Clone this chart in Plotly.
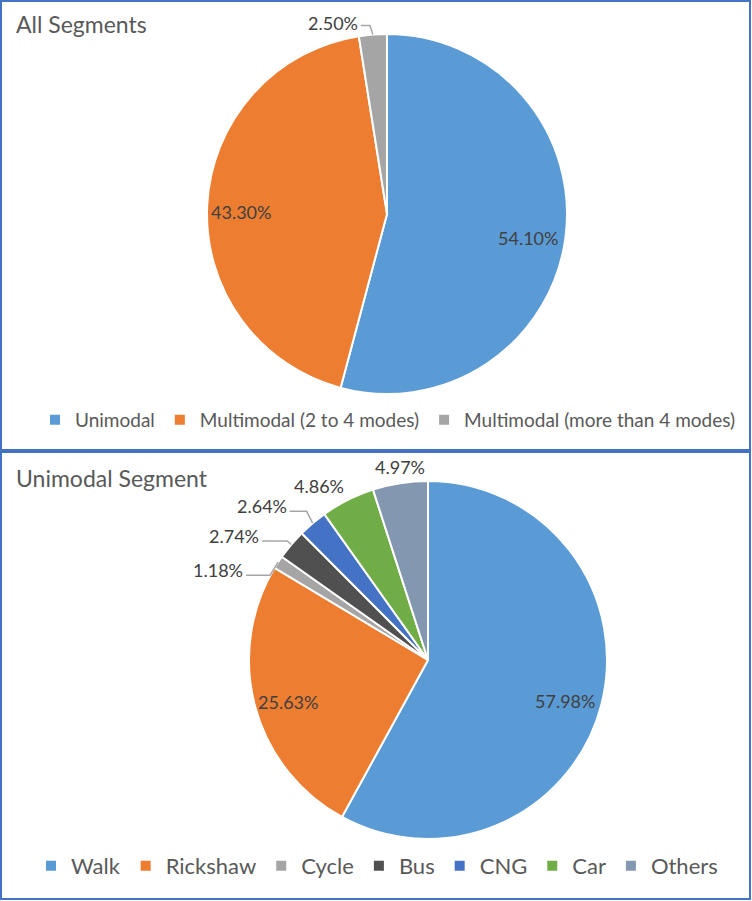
import math
import plotly.graph_objects as go

W, H = 752, 901

# ---------------- data ----------------
all_labels = ["Unimodal", "Multimodal (2 to 4 modes)", "Multimodal (more than 4 modes)"]
all_values = [54.10, 43.30, 2.50]

uni_labels = ["Walk", "Rickshaw", "Cycle", "Bus", "CNG", "Car", "Others"]
uni_values = [57.98, 25.63, 1.18, 2.74, 2.64, 4.86, 4.97]

# ---------------- styles ----------------
all_colors = ["#5B9BD5", "#ED7D31", "#A5A5A5"]
uni_colors = ["#5B9BD5", "#ED7D31", "#A5A5A5", "#505050", "#4472C4", "#70AD47", "#8497B0"]

FONT = "Lato"
TXT = "#404040"
TITLE_C = "#595959"
BORDER_C = "#4472C4"
LEADER_C = "#A6A6A6"

TOP = dict(cx=387, cy=214, r=180)
BOT = dict(cx=428, cy=660, r=179)

# label placement: "in" -> inside at radial factor; ("out", dx, dy, elbow) offsets in px from slice-edge midpoint
top_place = ["in", "in", ("out", -40, -12, (-3, -9))]
bot_place = ["in", "in",
             ("out", -60, 8, (-8, 13)),
             ("out", -57, -9, (-4, -3.5)),
             ("out", -51, -17, (-6, -12)),
             ("out", -29, -14, None),
             ("out", 0, -16, None)]


def px(x, y):
    return x / W, 1 - y / H


def domain(g):
    x0, y1 = px(g["cx"] - g["r"], g["cy"] - g["r"])
    x1, y0 = px(g["cx"] + g["r"], g["cy"] + g["r"])
    return dict(x=[x0, x1], y=[y0, y1])


def label_items(values, g, place, annotations, shapes):
    total = sum(values)
    cum = 0.0
    for v, p in zip(values, place):
        a0 = cum / total * 360
        cum += v
        a1 = cum / total * 360
        mid = math.radians((a0 + a1) / 2)
        s, c = math.sin(mid), math.cos(mid)
        text = f"{v:.2f}%"
        if p == "in":
            rr = 0.80 * g["r"]
            lx, ly = g["cx"] + rr * s - 2, g["cy"] - rr * c + 5
        else:
            ex, ey = g["cx"] + g["r"] * s, g["cy"] - g["r"] * c
            lx, ly = ex + p[1], ey + p[2]
            if p[3] is not None:
                bx, by = ex + p[3][0], ey + p[3][1]
                sx = lx + 28
                pts = [px(sx, by), px(bx, by), px(ex, ey)]
                path = "M {} {} L {} {} L {} {}".format(*[f"{u:.5f}" for pt in pts for u in pt])
                shapes.append(dict(type="path", xref="paper", yref="paper", path=path,
                                   line=dict(color=LEADER_C, width=1.5)))
        xx, yy = px(lx, ly)
        annotations.append(dict(x=xx, y=yy, xref="paper", yref="paper", text=text,
                                showarrow=False, xanchor="center", yanchor="middle",
                                font=dict(family=FONT, size=18, color=TXT)))


fig = go.Figure()
fig.add_trace(go.Pie(labels=all_labels, values=all_values, sort=False, direction="clockwise",
                     rotation=0, domain=domain(TOP), textinfo="none", hoverinfo="label+percent",
                     marker=dict(colors=all_colors, line=dict(color="white", width=2)),
                     legend="legend", showlegend=True))
fig.add_trace(go.Pie(labels=uni_labels, values=uni_values, sort=False, direction="clockwise",
                     rotation=0, domain=domain(BOT), textinfo="none", hoverinfo="label+percent",
                     marker=dict(colors=uni_colors, line=dict(color="white", width=2)),
                     legend="legend2", showlegend=True))

annotations, shapes = [], []
label_items(all_values, TOP, top_place, annotations, shapes)
label_items(uni_values, BOT, bot_place, annotations, shapes)

# titles
for t, yy in [("All Segments", 24), ("Unimodal Segment", 478)]:
    xx, yp = px(14, yy)
    annotations.append(dict(x=xx, y=yp, xref="paper", yref="paper", text=t, showarrow=False,
                            xanchor="left", yanchor="middle",
                            font=dict(family=FONT, size=23, color=TITLE_C)))

# panel borders
for (x0, y0, x1, y1) in [(1, 1, 750, 450), (1, 452, 750, 899)]:
    a0, b0 = px(x0, y0)
    a1, b1 = px(x1, y1)
    shapes.append(dict(type="rect", xref="paper", yref="paper", x0=a0, y0=b1, x1=a1, y1=b0,
                       line=dict(color=BORDER_C, width=2), fillcolor="rgba(0,0,0,0)"))

lx1, ly1 = px(388, 420)
lx2, ly2 = px(377, 866)
fig.update_layout(
    width=W, height=H, autosize=False,
    margin=dict(l=0, r=0, t=0, b=0),
    paper_bgcolor="white", plot_bgcolor="white",
    annotations=annotations, shapes=shapes,
    legend=dict(orientation="h", x=lx1, y=ly1, xanchor="center", yanchor="middle",
                font=dict(family=FONT, size=19, color=TITLE_C), itemwidth=30,
                bgcolor="rgba(0,0,0,0)"),
    legend2=dict(orientation="h", x=lx2, y=ly2, xanchor="center", yanchor="middle",
                 font=dict(family=FONT, size=22, color=TITLE_C), itemwidth=30,
                 bgcolor="rgba(0,0,0,0)"),
)

fig.write_html("out.html", config={"displayModeBar": False},
               post_script="document.body.style.margin='0px';")
